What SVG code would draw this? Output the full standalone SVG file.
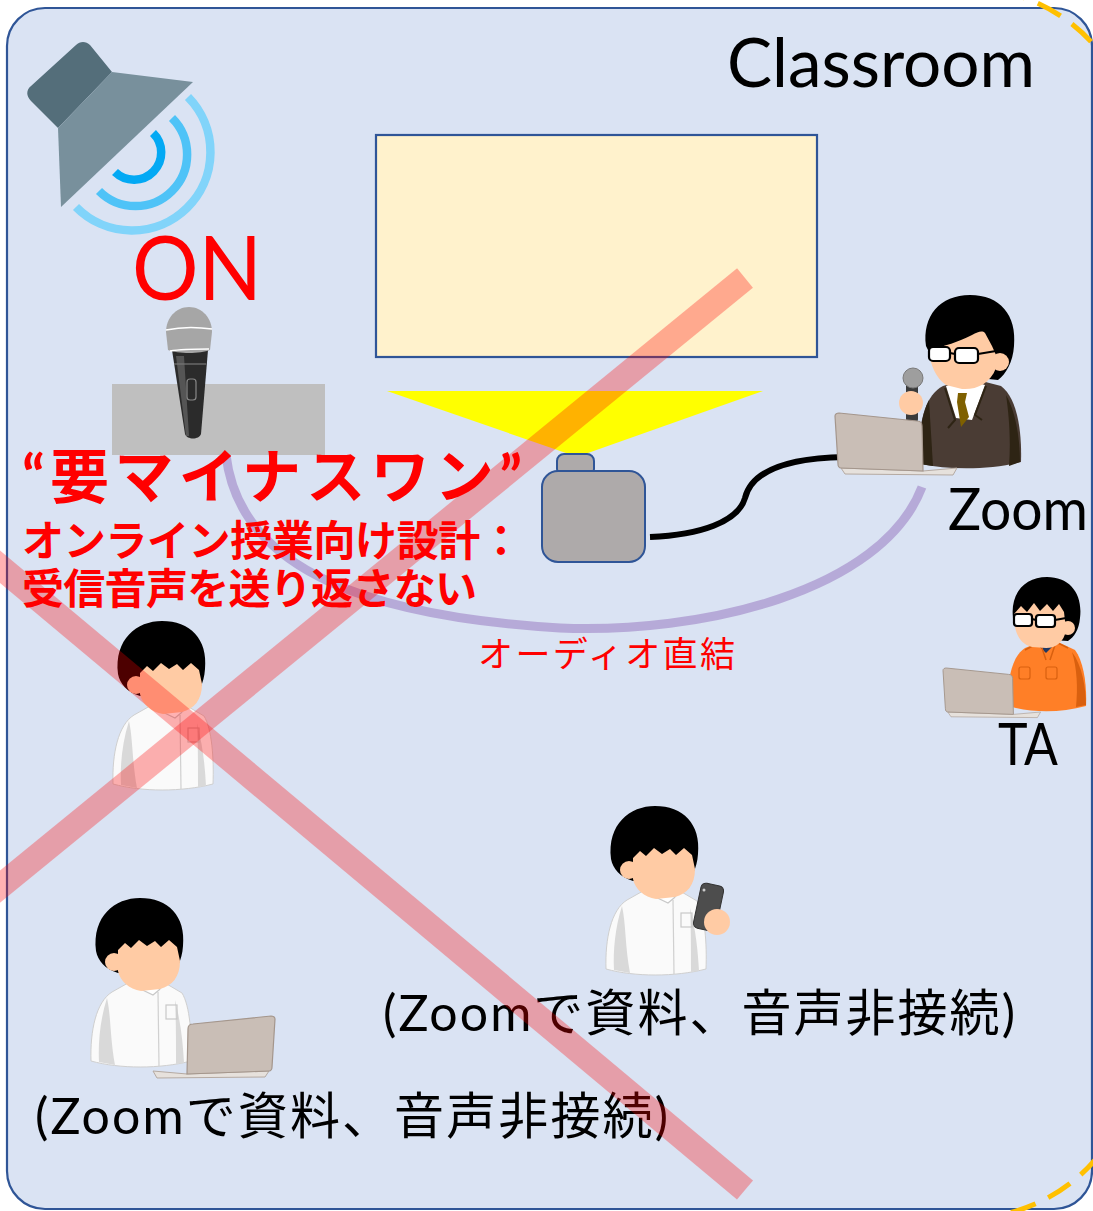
<svg xmlns="http://www.w3.org/2000/svg" width="1093" height="1211" viewBox="0 0 1093 1211">
  <style>
    .lat { font-family: Lato, "Liberation Sans", "Noto Sans CJK JP", sans-serif; fill: #000; }
    .jp { font-family: Lato, "Noto Sans CJK JP", sans-serif; }
    .warn { font-family: Lato, "Noto Sans CJK JP", sans-serif; font-weight: 700; fill: #FF0000; }
    .skin { fill: #FFCBA4; }
    .hair { fill: #000; }
    .shirt { fill: #FAFAFA; stroke: #CFCFCF; stroke-width: 1; }
    .fold { fill: #D9D9D9; }
    .lapscreen { fill: #C9BEB6; stroke: #A4968C; stroke-width: 1.2; }
    .lapbase { fill: #E6E1DC; stroke: #B5AAA2; stroke-width: 1; }
    .glass { fill: #FFF; stroke: #000; stroke-width: 2.2; }
    .cross { stroke: #FF0000; stroke-opacity: 0.3; stroke-width: 25; fill: none; }
  </style>
  <defs>
    <!-- seated student in a white shirt, origin at top-left of the hair -->
    <g id="student">
      <path class="shirt" d="M-4,163 C-5,133 1,104 17,94 L33,85 L70,85 L87,95 C95,108 97,138 96,163 C65,171 25,171 -4,163 Z"/>
      <path class="fold" d="M12,100 C5,122 3,145 4,164 L20,167 C15,140 16,118 12,100 Z"/>
      <path class="fold" d="M80,102 C86,125 88,146 89,165 L81,166 C81,141 81,121 80,102 Z"/>
      <path d="M63,94 L64,168" stroke="#D0D0D0" stroke-width="1.2" fill="none"/>
      <path d="M33,85 L58,97 L64,92 L70,85" fill="#FFF" stroke="#C8C8C8" stroke-width="1.2"/>
      <rect x="71" y="107" width="11" height="14" fill="none" stroke="#C8C8C8" stroke-width="1.2"/>
      <path class="hair" d="M1,53 C-3,18 20,0 45,0 C73,0 91,18 88,48 C87,63 81,73 75,78 L23,75 C10,71 3,63 1,53 Z"/>
      <circle class="skin" cx="19" cy="64" r="9"/>
      <path class="skin" d="M23,52 L30,45 L36,50 L44,42 L52,48 L60,43 L66,49 L74,42 L82,49 L85,63 C85,79 77,88 65,91 L46,93 C34,91 25,83 23,73 Z"/>
    </g>
    <!-- laptop seen from behind/side, screen on the left -->
    <g id="laptop">
      <path class="lapbase" d="M6,55 L88,58 L122,55 L118,62 L10,61 Z"/>
      <path class="lapscreen" d="M0,3 C0,1 2,0 4,0 L82,8 C85,8 87,10 87,13 L88,58 L6,55 C4,55 3,53 3,51 Z"/>
    </g>
  </defs>

  <!-- room outline -->
  <g id="classroom">
    <rect x="7" y="8" width="1085" height="1201" rx="38" fill="#DAE3F3" stroke="#2F5597" stroke-width="2.2"/>
    <path d="M880,-12 L968,-12 A168,168 0 0 1 1136,156 L1136,1050 A168,168 0 0 1 968,1218 L880,1218" fill="none" stroke="#FFC000" stroke-width="5" stroke-dasharray="26 14"/>
    <text class="lat" x="727" y="87" font-size="68" textLength="308" lengthAdjust="spacingAndGlyphs">Classroom</text>
  </g>

  <!-- projection screen -->
  <g id="screen">
    <rect x="376" y="135" width="441" height="222" fill="#FFF2CC" stroke="#2F5597" stroke-width="2.2"/>
  </g>

  <!-- beam -->
  <g id="beam">
    <polygon points="387,391 763,391 588,453 566,453" fill="#FFFF00"/>
  </g>

  <!-- connectors: audio cable and direct audio link -->
  <g id="connectors">
    <path d="M650,537 C700,535 738,522 745,498 C752,470 790,458 845,457" fill="none" stroke="#000" stroke-width="6"/>
    <path d="M226,455 C240,575 380,617 560,628 C700,634 882,592 922,487" fill="none" stroke="#B4A7D6" stroke-opacity="0.95" stroke-width="9"/>
    <text class="jp" x="478" y="667" font-size="35" fill="#FF0000" textLength="257">オーディオ直結</text>
  </g>

  <!-- projector -->
  <g id="projector">
    <rect x="557" y="454" width="37" height="22" rx="7" fill="#AEAAAA" stroke="#2F5597" stroke-width="2"/>
    <rect x="542" y="471" width="103" height="91" rx="16" fill="#AEAAAA" stroke="#2F5597" stroke-width="2"/>
  </g>

  <!-- loudspeaker -->
  <g id="speaker">
    <path d="M31,101 C26,96 26,90 31,86 L76,45 C80,41 86,41 90,45 L112,72 L58,128 Z" fill="#546E7A"/>
    <polygon points="112,72 193,82 61,207 58,128" fill="#78909C"/>
    <path d="M153,133 A27,27 0 0 1 115,172" fill="none" stroke="#03A9F4" stroke-width="8.5"/>
    <path d="M172,118 A50,50 0 0 1 99,191" fill="none" stroke="#4FC3F7" stroke-width="8.5"/>
    <path d="M188,97 A75,75 0 0 1 76,207" fill="none" stroke="#81D4FA" stroke-width="8.5"/>
  </g>

  <text x="132" y="300" font-family="Lato, 'Liberation Sans', sans-serif" font-size="90" fill="#FF0000" textLength="130" lengthAdjust="spacingAndGlyphs">ON</text>

  <!-- lectern microphone -->
  <g id="lectern">
    <rect x="112" y="384" width="213" height="71" fill="#BFBFBF"/>
    <path d="M172,350 L208,350 L201,434 C199,440 187,440 185,434 Z" fill="#2B2B2B"/>
    <path d="M176,356 L184,356 L189,436 L186,436 Z" fill="#555"/>
    <path d="M174,364 L206,364" stroke="#777" stroke-width="1.2"/>
    <rect x="187" y="379" width="9" height="21" rx="3" fill="none" stroke="#888" stroke-width="1.2"/>
    <path d="M166,332 C166,318 176,307 189,307 C202,307 212,318 212,332 L210,350 C200,354 178,354 168,350 Z" fill="#A6A6A6"/>
    <path d="M166,330 C180,327 198,327 212,329" stroke="#FFF" stroke-width="1.6" fill="none"/>
    <path d="M170,351 C182,349 198,349 209,349" stroke="#FFF" stroke-width="1.6" fill="none"/>
  </g>

  <!-- teacher -->
  <g id="teacher">
    <path d="M920,464 C917,430 923,396 943,386 L970,378 L1001,386 C1017,398 1022,430 1021,462 C990,470 950,470 920,464 Z" fill="#4A3C34"/>
    <path d="M920,464 C918,440 921,415 929,400 L933,466 Z" fill="#2E2414"/>
    <path d="M1006,395 C1016,412 1020,440 1020,462 L1009,466 C1011,440 1009,415 1006,395 Z" fill="#2E2414"/>
    <path d="M946,386 L966,379 L985,385 L972,420 L956,418 Z" fill="#FFF"/>
    <path d="M958,393 L967,393 L965,402 L969,417 L961,427 L957,402 Z" fill="#7F6000"/>
    <path d="M945,388 L955,420 L948,428 M986,386 L975,415 L982,420" fill="none" stroke="#2E2414" stroke-width="2"/>
    <path class="hair" d="M926,346 C922,316 940,295 970,295 C1000,295 1017,315 1014,346 C1013,362 1006,374 998,380 L940,374 Z"/>
    <circle class="skin" cx="1000" cy="362" r="9"/>
    <path class="skin" d="M929,350 C945,346 958,342 972,335 C978,332 982,330 985,333 L992,346 L996,355 L996,368 C990,384 976,390 962,389 L946,385 C936,378 930,365 929,350 Z"/>
    <rect class="glass" x="929" y="347" width="21" height="14" rx="4"/>
    <rect class="glass" x="955" y="348" width="23" height="15" rx="4"/>
    <path d="M950,353 L955,354 M978,354 L996,351" stroke="#000" stroke-width="2.2" fill="none"/>
    <rect x="906" y="382" width="12" height="40" rx="3" fill="#3A3A3A"/>
    <circle cx="913" cy="378" r="10" fill="#9E9E9E" stroke="#7A7A7A" stroke-width="1"/>
    <circle class="skin" cx="911" cy="403" r="12"/>
    <use href="#laptop" transform="translate(835,413)"/>
    <text class="lat" x="948" y="530" font-size="58" textLength="140" lengthAdjust="spacingAndGlyphs">Zoom</text>
  </g>

  <!-- teaching assistant -->
  <g id="ta">
    <path d="M1008,706 C1007,680 1012,656 1025,648 L1040,642 L1058,642 L1075,650 C1084,662 1087,686 1086,706 C1060,713 1032,713 1008,706 Z" fill="#FF7F27"/>
    <path d="M1072,652 C1082,665 1086,688 1086,705 L1076,707 C1078,688 1077,668 1072,652 Z" fill="#D9600F"/>
    <path d="M1036,643 L1046,653 L1056,643 Z" fill="#1F3864"/>
    <path d="M1025,650 L1040,642 L1046,660 M1068,648 L1056,642 L1050,660" fill="none" stroke="#D9600F" stroke-width="1.5"/>
    <rect x="1019" y="667" width="11" height="12" rx="2" fill="none" stroke="#D9600F" stroke-width="1.2"/>
    <rect x="1046" y="667" width="11" height="12" rx="2" fill="none" stroke="#D9600F" stroke-width="1.2"/>
    <path class="hair" d="M1013,618 C1010,593 1025,577 1047,577 C1070,577 1083,594 1080,618 C1079,630 1074,637 1068,641 L1020,638 Z"/>
    <circle class="skin" cx="1068" cy="628" r="7"/>
    <path class="skin" d="M1014,614 L1021,606 L1027,612 L1034,603 L1040,611 L1047,604 L1053,611 L1059,604 L1064,612 L1066,630 C1064,642 1056,648 1046,648 L1032,647 C1020,644 1014,634 1014,614 Z"/>
    <rect class="glass" x="1014" y="614" width="18" height="12" rx="3"/>
    <rect class="glass" x="1036" y="615" width="19" height="12" rx="3"/>
    <path d="M1032,619 L1036,620 M1055,620 L1066,618" stroke="#000" stroke-width="2" fill="none"/>
    <use href="#laptop" transform="translate(943,668) scale(0.8)"/>
    <text class="lat" x="998" y="765" font-size="58" textLength="60" lengthAdjust="spacingAndGlyphs">TA</text>
  </g>

  <!-- student in the front row -->
  <g id="student-front">
    <use href="#student" transform="translate(117,621)"/>
  </g>

  <!-- student with a phone -->
  <g id="student-phone">
    <use href="#student" transform="translate(610,806)"/>
    <rect x="697" y="884" width="23" height="46" rx="5" fill="#4D4D4D" stroke="#333" stroke-width="1" transform="rotate(12 708 907)"/>
    <circle cx="704" cy="890" r="1.5" fill="#CCC"/>
    <circle class="skin" cx="717" cy="922" r="13"/>
    <text class="jp" x="383" y="1031" font-size="50" fill="#000" textLength="632">(Zoomで資料、音声非接続)</text>
  </g>

  <!-- student with a laptop -->
  <g id="student-laptop">
    <use href="#student" transform="translate(95,898)"/>
    <use href="#laptop" transform="translate(275,1016) scale(-1,1)"/>
    <text class="jp" x="35" y="1134" font-size="50" fill="#000" textLength="633">(Zoomで資料、音声非接続)</text>
  </g>

  <!-- notes on the lectern microphone mixer -->
  <g id="note">
    <text class="warn" x="22" y="498" font-size="59" textLength="500">“要マイナスワン”</text>
    <text class="warn" x="22" y="556" font-size="42" textLength="500">オンライン授業向け設計：</text>
    <text class="warn" x="22" y="604" font-size="42" textLength="455">受信音声を送り返さない</text>
  </g>

  <!-- cross-out -->
  <g id="crossout">
    <line class="cross" x1="745" y1="278" x2="-20" y2="903"/>
    <line class="cross" x1="-20" y1="550" x2="745" y2="1190"/>
  </g>
</svg>
